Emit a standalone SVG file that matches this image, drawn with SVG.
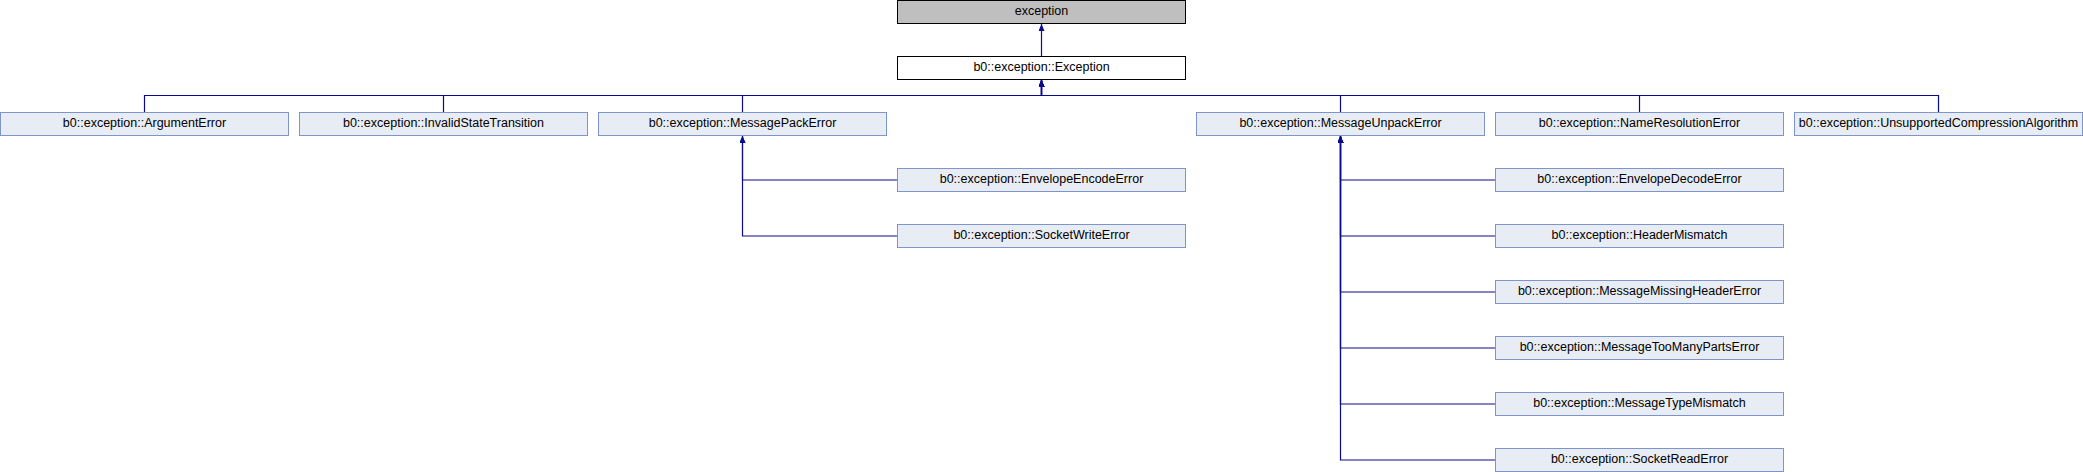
<svg xmlns="http://www.w3.org/2000/svg" width="2083" height="472" viewBox="0 0 2083 472">
<style>
.n rect{fill:#e8ecf4;stroke:#7c95ca;stroke-width:1}
.n text{font-family:"Liberation Sans",Arial,sans-serif;font-size:12.5px;fill:#000;text-anchor:middle}
#n0 rect{fill:#bfbfbf;stroke:#000}
#n1 rect{fill:#fff;stroke:#000}
#edges path{fill:none;stroke:#0a0a8c;stroke-width:1.2;marker-end:url(#ah)}
</style>
<defs>
<marker id="ah" markerUnits="userSpaceOnUse" markerWidth="7" markerHeight="6" refX="7" refY="3" orient="auto">
<path d="M0,0 L7,3 L0,6 z" fill="#0a0a8c"/>
</marker>
</defs>
<rect width="2083" height="472" fill="#fff"/>
<g id="edges">
<path d="M1041.5,56.5 V24"/>
<path d="M144.5,112.5 V95.5 H1041.5 V80"/>
<path d="M443.5,112.5 V95.5 H1041.5 V80"/>
<path d="M742.5,112.5 V95.5 H1041.5 V80"/>
<path d="M1340.5,112.5 V95.5 H1041.5 V80"/>
<path d="M1639.5,112.5 V95.5 H1041.5 V80"/>
<path d="M1938.5,112.5 V95.5 H1041.5 V80"/>
<path d="M897.5,180 H742.5 V136"/>
<path d="M897.5,236 H742.5 V136"/>
<path d="M1495.5,180 H1340.5 V136"/>
<path d="M1495.5,236 H1340.5 V136"/>
<path d="M1495.5,292 H1340.5 V136"/>
<path d="M1495.5,348 H1340.5 V136"/>
<path d="M1495.5,404 H1340.5 V136"/>
<path d="M1495.5,460 H1340.5 V136"/>
</g>
<g id="n0" class="n"><rect x="897.5" y="0.5" width="288" height="23"/><text x="1041.5" y="15">exception</text></g>
<g id="n1" class="n"><rect x="897.5" y="56.5" width="288" height="23"/><text x="1041.5" y="71">b0::exception::Exception</text></g>
<g id="n2" class="n"><rect x="0.5" y="112.5" width="288" height="23"/><text x="144.5" y="127">b0::exception::ArgumentError</text></g>
<g id="n3" class="n"><rect x="299.5" y="112.5" width="288" height="23"/><text x="443.5" y="127">b0::exception::InvalidStateTransition</text></g>
<g id="n4" class="n"><rect x="598.5" y="112.5" width="288" height="23"/><text x="742.5" y="127">b0::exception::MessagePackError</text></g>
<g id="n5" class="n"><rect x="1196.5" y="112.5" width="288" height="23"/><text x="1340.5" y="127">b0::exception::MessageUnpackError</text></g>
<g id="n6" class="n"><rect x="1495.5" y="112.5" width="288" height="23"/><text x="1639.5" y="127">b0::exception::NameResolutionError</text></g>
<g id="n7" class="n"><rect x="1794.5" y="112.5" width="288" height="23"/><text x="1938.5" y="127">b0::exception::UnsupportedCompressionAlgorithm</text></g>
<g id="n8" class="n"><rect x="897.5" y="168.5" width="288" height="23"/><text x="1041.5" y="183">b0::exception::EnvelopeEncodeError</text></g>
<g id="n9" class="n"><rect x="897.5" y="224.5" width="288" height="23"/><text x="1041.5" y="239">b0::exception::SocketWriteError</text></g>
<g id="n10" class="n"><rect x="1495.5" y="168.5" width="288" height="23"/><text x="1639.5" y="183">b0::exception::EnvelopeDecodeError</text></g>
<g id="n11" class="n"><rect x="1495.5" y="224.5" width="288" height="23"/><text x="1639.5" y="239">b0::exception::HeaderMismatch</text></g>
<g id="n12" class="n"><rect x="1495.5" y="280.5" width="288" height="23"/><text x="1639.5" y="295">b0::exception::MessageMissingHeaderError</text></g>
<g id="n13" class="n"><rect x="1495.5" y="336.5" width="288" height="23"/><text x="1639.5" y="351">b0::exception::MessageTooManyPartsError</text></g>
<g id="n14" class="n"><rect x="1495.5" y="392.5" width="288" height="23"/><text x="1639.5" y="407">b0::exception::MessageTypeMismatch</text></g>
<g id="n15" class="n"><rect x="1495.5" y="448.5" width="288" height="23"/><text x="1639.5" y="463">b0::exception::SocketReadError</text></g>
</svg>
